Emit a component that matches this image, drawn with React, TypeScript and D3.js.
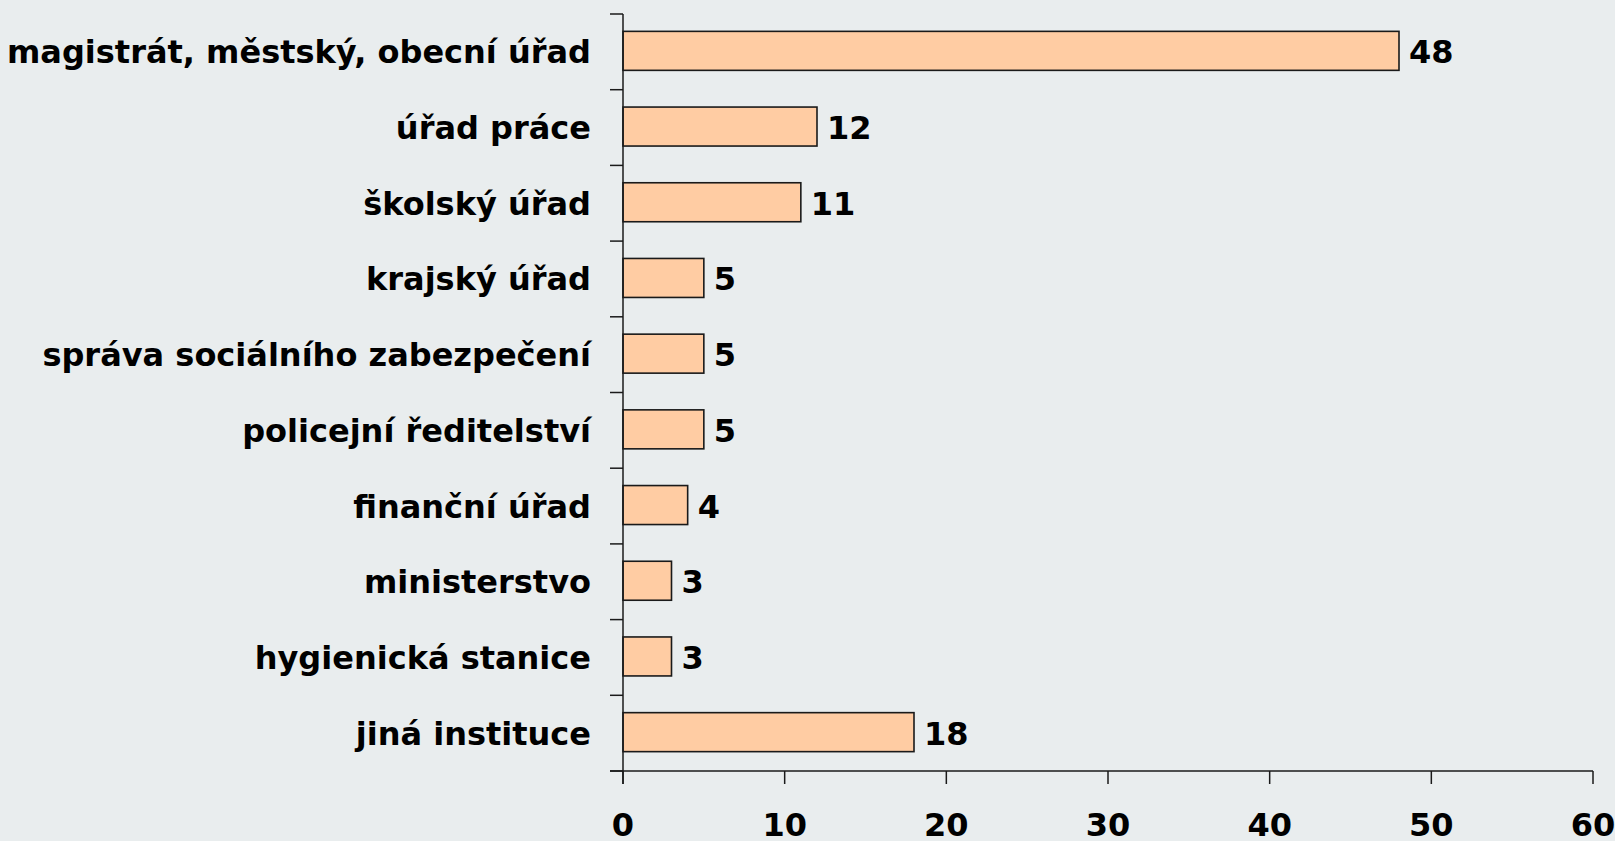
import { useEffect, useRef } from "react";
import * as d3 from "d3";

const categories = [
  "magistrát, městský, obecní úřad",
  "úřad práce",
  "školský úřad",
  "krajský úřad",
  "správa sociálního zabezpečení",
  "policejní ředitelství",
  "finanční úřad",
  "ministerstvo",
  "hygienická stanice",
  "jiná instituce",
];
const values = [48, 12, 11, 5, 5, 5, 4, 3, 3, 18];
const xTicks = [0, 10, 20, 30, 40, 50, 60];

const W = 1615;
const H = 841;
const margin = { top: 14, right: 22, bottom: 70, left: 623 };
const FONT = "'DejaVu Sans', Verdana, sans-serif";
const FS = 32;

export default function App() {
  const svgRef = useRef<SVGSVGElement>(null);

  useEffect(() => {
    if (!svgRef.current) return;
    const svg = d3.select(svgRef.current);
    svg.selectAll("*").remove();

    const x = d3.scaleLinear().domain([0, 60]).range([margin.left, W - margin.right]);
    const y = d3
      .scaleBand<string>()
      .domain(categories)
      .range([margin.top, H - margin.bottom])
      .padding(0);
    const bw = y.bandwidth();
    const barH = bw * 0.515;
    const x0 = x(0);
    const yBottom = H - margin.bottom;

    svg.append("rect").attr("width", W).attr("height", H).attr("fill", "#e9edee");

    const g = svg.append("g");

    // bars
    g.selectAll("rect.bar")
      .data(categories)
      .join("rect")
      .attr("class", "bar")
      .attr("x", x0)
      .attr("y", (d) => y(d)! + bw / 2 - barH / 2 - 1)
      .attr("width", (d, i) => x(values[i]) - x0)
      .attr("height", barH)
      .attr("fill", "#ffcca3")
      .attr("stroke", "#1a1a1a")
      .attr("stroke-width", 1.6);

    // value labels
    g.selectAll("text.val")
      .data(categories)
      .join("text")
      .attr("class", "val")
      .attr("x", (d, i) => x(values[i]) + 10)
      .attr("y", (d) => y(d)! + bw / 2 + 11.5)
      .attr("font-family", FONT)
      .attr("font-weight", "bold")
      .attr("font-size", FS)
      .attr("fill", "#000")
      .text((d, i) => values[i]);

    // category labels
    g.selectAll("text.cat")
      .data(categories)
      .join("text")
      .attr("class", "cat")
      .attr("x", 591)
      .attr("y", (d) => y(d)! + bw / 2 + 11.5)
      .attr("text-anchor", "end")
      .attr("font-family", FONT)
      .attr("font-weight", "bold")
      .attr("font-size", FS)
      .attr("fill", "#000")
      .text((d) => d);

    // y axis
    const axisColor = "#1a1a1a";
    g.append("line")
      .attr("x1", x0)
      .attr("x2", x0)
      .attr("y1", margin.top)
      .attr("y2", yBottom + 13)
      .attr("stroke", axisColor)
      .attr("stroke-width", 1.5);
    const bounds = d3.range(categories.length + 1).map((i) => margin.top + i * bw);
    g.selectAll("line.ytick")
      .data(bounds)
      .join("line")
      .attr("class", "ytick")
      .attr("x1", x0 - 13)
      .attr("x2", x0)
      .attr("y1", (d) => d)
      .attr("y2", (d) => d)
      .attr("stroke", axisColor)
      .attr("stroke-width", 1.5);

    // x axis
    g.append("line")
      .attr("x1", x0 - 13)
      .attr("x2", x(60))
      .attr("y1", yBottom)
      .attr("y2", yBottom)
      .attr("stroke", axisColor)
      .attr("stroke-width", 1.5);
    g.selectAll("line.xtick")
      .data(xTicks)
      .join("line")
      .attr("class", "xtick")
      .attr("x1", (d) => x(d))
      .attr("x2", (d) => x(d))
      .attr("y1", yBottom)
      .attr("y2", yBottom + 13)
      .attr("stroke", axisColor)
      .attr("stroke-width", 1.5);
    g.selectAll("text.xlab")
      .data(xTicks)
      .join("text")
      .attr("class", "xlab")
      .attr("x", (d) => x(d))
      .attr("y", yBottom + 65)
      .attr("text-anchor", "middle")
      .attr("font-family", FONT)
      .attr("font-weight", "bold")
      .attr("font-size", FS)
      .attr("fill", "#000")
      .text((d) => d);
  }, []);

  return (
    <svg
      ref={svgRef}
      width={W}
      height={H}
      style={{ position: "absolute", left: 0, top: 0, display: "block" }}
    />
  );
}
